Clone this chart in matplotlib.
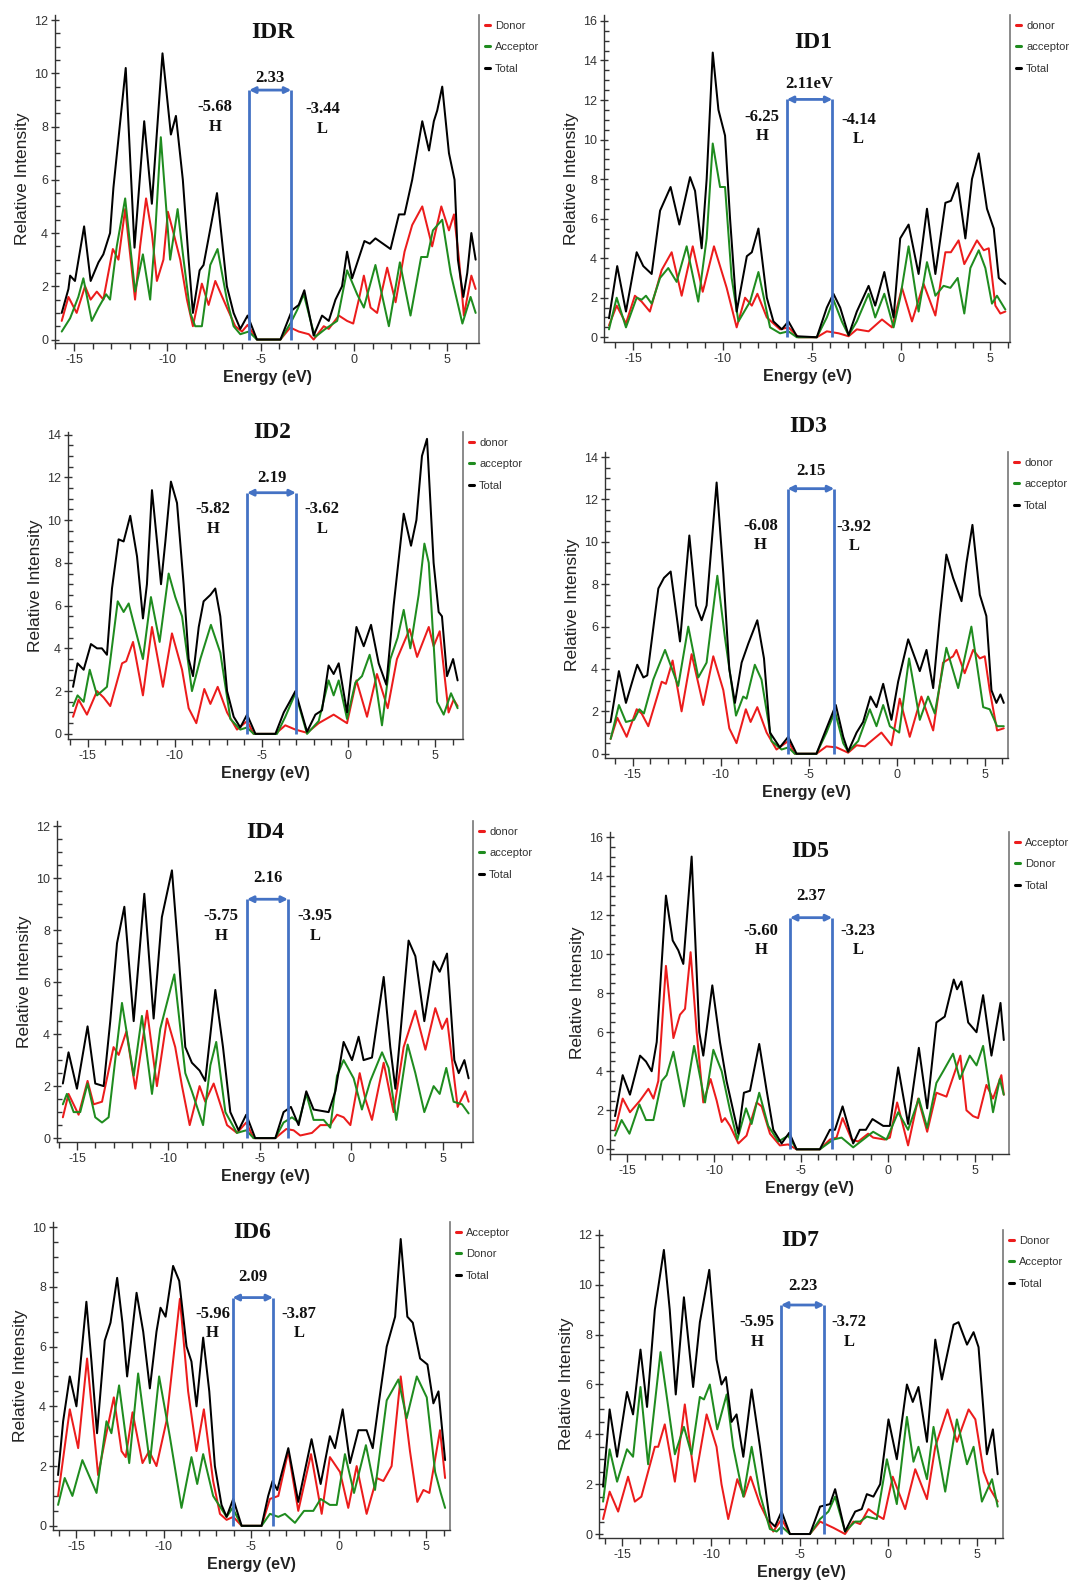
import matplotlib
matplotlib.use('Agg')
import matplotlib.pyplot as plt
from matplotlib.ticker import MultipleLocator

plt.rcParams['font.family'] = ['Liberation Sans', 'DejaVu Sans']
plt.rcParams['axes.unicode_minus'] = False

RED = '#ec1c1c'
GREEN = '#1f8c1f'
BLACK = '#000000'
BLUE = '#4472c4'

# ---------------- data (energy eV, relative intensity) ----------------
IDR_total = [(-15.66,1.0),(-15.30,1.9),(-15.21,2.4),(-14.95,2.2),(-14.46,4.25),(-14.11,2.2),(-13.69,2.9),(-13.43,3.2),(-13.25,3.6),(-13.07,4.0),(-12.89,5.7),(-12.23,10.2),(-11.76,3.45),(-11.24,8.2),(-10.83,5.1),(-10.26,10.75),(-9.81,7.7),(-9.54,8.4),(-9.17,6.0),(-8.86,3.0),(-8.63,1.0),(-8.27,2.6),(-8.06,2.8),(-7.34,5.5),(-6.81,2.0),(-6.45,1.0),(-6.09,0.4),(-5.70,0.9),(-5.20,0.0),(-3.94,0.0),(-3.32,1.1),(-2.96,1.3),(-2.66,1.85),(-2.16,0.15),(-1.71,0.9),(-1.35,0.7),(-0.99,1.5),(-0.64,2.0),(-0.37,3.3),(-0.10,2.3),(0.56,3.7),(0.85,3.6),(1.15,3.8),(1.96,3.4),(2.41,4.7),(2.71,4.7),(3.12,6.0),(3.66,8.2),(4.02,7.1),(4.28,8.2),(4.46,8.6),(4.73,9.5),(5.09,7.0),(5.39,6.0),(5.57,3.0),(5.86,1.6),(6.07,2.5),(6.29,4.0),(6.52,3.0)]
IDR_donor = [(-15.66,0.7),(-15.30,1.6),(-14.86,1.0),(-14.41,2.0),(-14.11,1.5),(-13.78,1.8),(-13.43,1.5),(-12.92,3.4),(-12.62,3.0),(-12.26,4.9),(-11.73,1.5),(-11.46,3.5),(-11.14,5.3),(-10.83,4.0),(-10.56,2.2),(-10.21,3.0),(-9.97,4.8),(-9.67,4.0),(-9.31,3.0),(-8.95,1.5),(-8.63,0.5),(-8.15,2.1),(-7.79,1.3),(-7.43,2.2),(-6.81,1.2),(-6.36,0.5),(-6.00,0.3),(-5.70,0.55),(-5.29,0.1),(-5.20,0.0),(-3.94,0.0),(-3.59,0.3),(-3.41,0.45),(-2.96,0.3),(-2.42,0.2),(-2.16,0.0),(-1.62,0.5),(-1.35,0.4),(-0.81,0.9),(-0.37,0.7),(-0.04,0.6),(0.26,1.5),(0.53,2.4),(0.89,1.2),(1.24,1.0),(1.78,2.7),(2.23,1.4),(2.71,3.3),(3.12,4.3),(3.66,5.0),(4.19,3.5),(4.68,5.0),(5.09,4.1),(5.36,4.7),(5.63,3.0),(5.89,0.9),(6.29,2.4),(6.52,1.9)]
IDR_acceptor = [(-15.66,0.3),(-15.21,0.8),(-14.77,1.6),(-14.50,2.3),(-14.05,0.7),(-13.69,1.2),(-13.28,1.7),(-13.07,1.5),(-12.71,3.5),(-12.26,5.3),(-11.73,1.8),(-11.31,3.2),(-10.92,1.5),(-10.65,4.0),(-10.35,7.6),(-9.85,3.0),(-9.45,4.9),(-9.13,3.0),(-8.77,1.0),(-8.51,0.5),(-8.15,0.5),(-7.70,2.8),(-7.31,3.4),(-6.81,1.5),(-6.45,0.5),(-6.09,0.2),(-5.64,0.3),(-5.20,0.0),(-3.94,0.0),(-3.41,0.6),(-3.05,1.1),(-2.69,1.7),(-2.25,0.5),(-2.07,0.1),(-1.53,0.4),(-0.90,0.7),(-0.37,2.6),(0.17,1.7),(0.53,1.2),(1.15,2.8),(1.87,0.5),(2.46,2.9),(3.03,0.9),(3.60,3.1),(3.93,3.1),(4.23,4.1),(4.73,4.5),(5.18,2.5),(5.81,0.6),(6.25,1.6),(6.52,1.0)]

ID1_total = [(-16.36,0.96),(-15.90,3.6),(-15.41,1.3),(-14.81,4.3),(-14.44,3.6),(-13.97,3.2),(-13.50,6.4),(-12.91,7.6),(-12.42,5.7),(-11.82,8.1),(-11.54,7.4),(-11.17,4.5),(-10.89,8.0),(-10.55,14.4),(-10.23,11.5),(-9.86,10.2),(-9.58,6.0),(-9.21,1.3),(-8.64,4.1),(-8.36,4.3),(-7.99,5.5),(-7.52,2.0),(-7.15,0.8),(-6.68,0.4),(-6.31,0.8),(-5.84,0.05),(-4.72,0.0),(-4.16,1.5),(-3.79,2.2),(-3.41,1.5),(-2.94,0.1),(-2.48,1.3),(-1.82,2.6),(-1.45,1.6),(-0.94,3.3),(-0.42,1.0),(-0.05,5.0),(0.42,5.7),(0.98,3.2),(1.45,6.5),(1.92,3.2),(2.48,6.8),(2.79,6.9),(3.17,7.8),(3.60,5.0),(3.97,8.0),(4.35,9.3),(4.81,6.5),(5.19,5.5),(5.47,3.0),(5.84,2.7)]
ID1_donor = [(-16.36,0.6),(-15.93,1.6),(-15.41,0.7),(-14.91,2.1),(-14.53,1.8),(-14.07,1.3),(-13.41,3.4),(-12.85,4.3),(-12.29,2.1),(-11.67,4.6),(-11.11,2.3),(-10.48,4.6),(-9.77,2.5),(-9.21,0.5),(-8.74,2.0),(-8.36,1.6),(-8.05,2.2),(-7.52,1.0),(-6.78,0.4),(-6.31,0.5),(-5.75,0.0),(-4.72,0.0),(-4.16,0.3),(-3.50,0.2),(-2.94,0.05),(-2.48,0.4),(-1.82,0.3),(-1.07,0.9),(-0.51,0.5),(0.05,2.5),(0.61,0.8),(1.26,2.7),(1.92,1.1),(2.48,4.3),(2.79,4.3),(3.22,4.9),(3.54,3.7),(4.25,4.9),(4.63,4.4),(4.91,4.5),(5.28,1.6),(5.56,1.2),(5.84,1.3)]
ID1_acceptor = [(-16.36,0.4),(-15.93,2.0),(-15.41,0.5),(-14.81,2.0),(-14.53,1.9),(-14.29,2.1),(-13.97,1.7),(-13.50,3.0),(-13.04,3.5),(-12.57,2.8),(-12.01,4.6),(-11.36,1.8),(-10.89,5.0),(-10.55,9.8),(-10.14,7.6),(-9.86,7.6),(-9.49,3.0),(-9.11,0.8),(-8.46,1.8),(-7.99,3.3),(-7.34,0.5),(-6.78,0.2),(-6.31,0.3),(-5.84,0.0),(-4.72,0.0),(-4.16,1.0),(-3.79,1.9),(-3.32,0.8),(-2.94,0.1),(-2.48,0.8),(-1.82,2.2),(-1.45,1.0),(-0.94,2.2),(-0.42,0.5),(-0.05,2.0),(0.42,4.6),(0.98,1.3),(1.45,3.8),(1.92,2.1),(2.38,2.6),(2.76,2.5),(3.17,3.0),(3.54,1.2),(3.88,3.5),(4.35,4.4),(4.72,3.5),(5.09,1.7),(5.37,2.1),(5.84,1.4)]

ID2_total = [(-15.84,2.2),(-15.58,3.3),(-15.23,3.0),(-14.81,4.2),(-14.46,4.0),(-14.18,4.0),(-13.89,3.7),(-13.60,6.8),(-13.22,9.1),(-12.93,9.0),(-12.55,10.2),(-12.16,8.3),(-11.82,5.4),(-11.59,7.0),(-11.30,11.4),(-11.01,9.0),(-10.78,7.0),(-10.53,9.0),(-10.21,11.8),(-9.86,10.8),(-9.48,7.0),(-9.19,3.5),(-8.94,2.7),(-8.61,5.0),(-8.33,6.2),(-7.94,6.5),(-7.66,6.8),(-7.37,5.5),(-6.98,2.0),(-6.60,0.8),(-6.22,0.3),(-5.83,0.9),(-5.35,0.0),(-4.20,0.0),(-3.72,1.0),(-3.38,1.5),(-3.05,2.0),(-2.77,1.2),(-2.38,0.1),(-1.90,0.9),(-1.52,1.1),(-1.14,3.2),(-0.85,2.8),(-0.56,3.3),(-0.08,1.0),(0.46,5.0),(0.88,4.1),(1.30,5.1),(1.74,3.3),(2.18,2.3),(2.60,6.0),(3.18,10.3),(3.60,8.8),(3.91,10.0),(4.23,13.0),(4.52,13.8),(4.90,8.0),(5.19,5.7),(5.38,5.5),(5.67,2.7),(6.02,3.5),(6.28,2.5)]
ID2_donor = [(-15.84,0.8),(-15.52,1.6),(-15.04,0.9),(-14.46,2.0),(-14.08,1.7),(-13.70,1.3),(-13.02,3.3),(-12.78,3.4),(-12.39,4.3),(-11.82,1.8),(-11.30,5.0),(-10.67,2.2),(-10.15,4.7),(-9.57,3.0),(-9.19,1.2),(-8.75,0.5),(-8.29,2.1),(-7.94,1.4),(-7.52,2.2),(-6.98,1.0),(-6.41,0.2),(-5.83,0.6),(-5.45,0.0),(-4.20,0.0),(-3.63,0.4),(-3.05,0.2),(-2.38,0.05),(-1.71,0.5),(-0.85,0.9),(-0.08,0.5),(0.46,2.5),(1.07,0.8),(1.64,2.8),(2.26,1.2),(2.79,3.5),(3.52,4.9),(3.95,3.6),(4.62,5.0),(4.90,4.1),(5.25,4.8),(5.76,1.0),(6.05,1.6),(6.28,1.3)]
ID2_acceptor = [(-15.84,1.3),(-15.58,1.8),(-15.23,1.5),(-14.88,3.0),(-14.46,1.8),(-13.89,2.2),(-13.27,6.2),(-12.93,5.7),(-12.64,6.1),(-11.82,3.5),(-11.36,6.4),(-10.86,4.3),(-10.34,7.5),(-9.96,6.4),(-9.57,5.5),(-9.00,2.0),(-8.52,3.5),(-7.91,5.1),(-7.37,3.8),(-6.79,0.7),(-6.22,0.2),(-5.83,0.3),(-5.45,0.0),(-4.11,0.0),(-3.63,0.8),(-3.05,1.9),(-2.38,0.0),(-1.71,0.6),(-1.14,2.5),(-0.85,1.8),(-0.56,2.5),(-0.08,0.7),(0.40,2.4),(0.78,2.7),(1.22,3.7),(1.55,2.5),(1.93,0.4),(2.41,3.5),(2.83,4.5),(3.18,5.8),(3.56,4.0),(4.04,6.5),(4.37,8.9),(4.62,8.0),(5.10,1.5),(5.48,0.9),(5.90,1.9),(6.28,1.2)]

ID3_total = [(-16.25,1.5),(-15.78,3.9),(-15.38,2.4),(-14.74,4.2),(-14.39,3.6),(-14.17,3.7),(-13.54,7.8),(-13.22,8.3),(-12.84,8.6),(-12.31,5.3),(-11.78,10.3),(-11.40,7.0),(-11.08,6.3),(-10.80,7.0),(-10.23,12.8),(-9.85,8.5),(-9.51,4.0),(-9.19,2.4),(-8.81,4.3),(-8.43,5.2),(-7.92,6.3),(-7.54,4.5),(-7.20,1.0),(-6.64,0.3),(-6.16,0.8),(-5.69,0.0),(-4.56,0.0),(-3.99,1.2),(-3.46,2.3),(-3.04,0.8),(-2.76,0.1),(-2.28,1.0),(-1.91,1.5),(-1.49,2.7),(-1.15,2.2),(-0.77,3.3),(-0.30,1.6),(0.08,3.4),(0.65,5.4),(1.31,3.9),(1.69,4.9),(2.07,3.1),(2.45,6.5),(2.82,9.4),(3.20,8.3),(3.68,7.2),(3.96,9.0),(4.30,10.8),(4.72,7.5),(5.09,6.5),(5.38,3.0),(5.66,2.4),(5.89,2.8),(6.08,2.4)]
ID3_donor = [(-16.25,0.7),(-15.87,1.7),(-15.34,0.8),(-14.77,2.1),(-14.49,1.9),(-14.11,1.3),(-13.35,3.4),(-13.11,3.3),(-12.73,4.4),(-12.22,2.0),(-11.65,4.7),(-10.99,2.3),(-10.42,4.6),(-9.85,3.0),(-9.51,1.2),(-9.10,0.5),(-8.57,2.1),(-8.30,1.5),(-7.92,2.2),(-7.39,1.0),(-6.83,0.2),(-6.16,0.6),(-5.79,0.0),(-4.56,0.0),(-3.99,0.35),(-3.42,0.3),(-2.76,0.05),(-2.28,0.4),(-1.81,0.35),(-0.87,1.0),(-0.30,0.4),(0.17,2.6),(0.74,0.8),(1.40,2.7),(2.07,1.1),(2.63,4.3),(3.20,4.6),(3.39,4.9),(3.86,3.8),(4.34,4.9),(4.72,4.5),(5.00,4.6),(5.28,3.0),(5.70,1.1),(6.08,1.2)]
ID3_acceptor = [(-16.25,0.7),(-15.78,2.3),(-15.38,1.5),(-14.92,1.6),(-14.62,2.1),(-14.36,1.9),(-13.83,3.5),(-13.16,4.9),(-12.41,3.2),(-11.84,6.0),(-11.27,3.6),(-10.80,4.3),(-10.19,8.4),(-9.76,5.5),(-9.13,1.8),(-8.72,2.7),(-8.53,2.6),(-8.06,4.2),(-7.68,3.5),(-7.11,0.6),(-6.54,0.2),(-6.16,0.3),(-5.79,0.0),(-4.56,0.0),(-3.99,1.0),(-3.51,2.0),(-3.04,0.5),(-2.76,0.1),(-2.19,0.6),(-1.53,2.1),(-1.15,1.3),(-0.77,2.3),(-0.39,1.3),(0.14,1.0),(0.70,4.5),(1.31,1.6),(1.78,2.7),(2.16,1.9),(2.82,5.0),(3.49,3.1),(4.24,6.0),(4.91,2.2),(5.28,2.1),(5.70,1.3),(6.08,1.3)]

ID4_total = [(-15.77,2.1),(-15.46,3.3),(-15.00,1.9),(-14.42,4.3),(-14.00,2.1),(-13.54,2.0),(-13.18,4.5),(-12.81,7.5),(-12.41,8.9),(-11.90,4.5),(-11.32,9.4),(-10.81,4.6),(-10.36,8.5),(-9.81,10.3),(-9.44,7.0),(-9.08,3.5),(-8.72,2.9),(-8.30,2.6),(-7.99,2.2),(-7.44,5.7),(-7.02,3.5),(-6.62,1.0),(-6.17,0.3),(-5.75,0.9),(-5.26,0.0),(-4.16,0.0),(-3.71,1.0),(-3.31,1.2),(-2.89,0.5),(-2.47,1.8),(-2.07,1.1),(-1.25,1.0),(-0.88,1.8),(-0.43,3.7),(0.03,3.0),(0.39,3.9),(0.66,3.0),(1.12,3.1),(1.76,6.2),(2.12,3.5),(2.40,1.9),(2.67,4.0),(3.12,7.6),(3.49,7.0),(3.98,4.5),(4.49,6.8),(4.82,6.4),(5.22,7.1),(5.62,3.0),(5.86,2.5),(6.17,3.0),(6.40,2.3)]
ID4_donor = [(-15.77,0.8),(-15.46,1.7),(-14.91,0.9),(-14.42,2.2),(-14.09,1.3),(-13.63,1.4),(-13.00,3.5),(-12.72,3.2),(-12.30,4.1),(-11.81,1.9),(-11.17,4.9),(-10.63,2.0),(-10.08,4.6),(-9.63,3.5),(-9.26,2.0),(-8.84,0.5),(-8.30,2.0),(-7.99,1.4),(-7.53,2.1),(-6.80,0.5),(-6.26,0.2),(-5.75,0.6),(-5.35,0.0),(-4.16,0.0),(-3.56,0.35),(-3.16,0.3),(-2.80,0.1),(-2.16,0.2),(-1.70,0.5),(-1.16,0.5),(-0.79,0.9),(-0.43,0.8),(-0.06,0.5),(0.45,2.5),(0.76,1.5),(1.12,0.7),(1.76,2.9),(2.30,1.0),(2.85,3.5),(3.49,4.9),(4.04,3.4),(4.58,5.0),(4.95,4.2),(5.22,4.6),(5.80,1.2),(6.22,1.8),(6.40,1.4)]
ID4_acceptor = [(-15.77,1.3),(-15.55,1.7),(-15.18,1.0),(-14.82,1.0),(-14.42,2.1),(-14.00,0.8),(-13.63,0.6),(-13.27,0.8),(-12.91,3.0),(-12.54,5.2),(-11.90,2.4),(-11.45,4.7),(-10.90,1.7),(-10.45,4.2),(-9.68,6.3),(-9.08,2.5),(-8.72,1.8),(-8.11,0.5),(-7.71,2.8),(-7.39,3.7),(-6.89,1.0),(-6.26,0.2),(-5.75,0.3),(-5.35,0.0),(-4.16,0.0),(-3.71,0.6),(-3.25,0.8),(-2.89,0.6),(-2.47,1.7),(-2.07,0.7),(-1.52,0.7),(-1.16,0.4),(-0.79,2.4),(-0.43,3.0),(0.12,2.3),(0.57,1.1),(1.03,2.2),(1.67,3.3),(2.03,2.7),(2.45,0.7),(3.07,3.6),(3.49,2.5),(3.98,1.0),(4.49,2.0),(4.82,1.7),(5.18,2.7),(5.58,1.4),(6.04,1.3),(6.40,0.95)]

ID5_total = [(-15.71,1.7),(-15.27,3.8),(-14.85,2.8),(-14.27,4.8),(-13.93,4.5),(-13.60,4.0),(-13.31,5.5),(-12.78,13.0),(-12.39,10.7),(-12.07,10.2),(-11.78,9.5),(-11.30,15.0),(-10.86,6.0),(-10.63,4.8),(-10.11,8.4),(-9.67,5.5),(-9.29,3.5),(-8.61,0.8),(-8.29,2.9),(-7.94,3.0),(-7.41,5.4),(-6.98,3.0),(-6.60,1.0),(-6.12,0.3),(-5.68,0.85),(-5.26,0.0),(-3.92,0.0),(-3.34,1.0),(-3.05,1.0),(-2.61,2.2),(-2.00,0.3),(-1.62,1.0),(-1.27,1.0),(-0.89,1.55),(-0.27,1.2),(0.11,1.2),(0.59,4.2),(1.16,1.3),(1.78,5.2),(2.26,2.1),(2.79,6.5),(3.27,6.8),(3.79,8.7),(3.98,8.2),(4.23,8.6),(4.62,6.5),(5.10,6.0),(5.48,7.9),(5.96,4.8),(6.48,7.5),(6.67,5.6)]
ID5_acceptor = [(-15.71,1.0),(-15.27,2.6),(-14.85,1.9),(-14.27,2.5),(-13.79,3.1),(-13.50,2.6),(-13.22,3.5),(-12.78,9.4),(-12.35,5.7),(-11.97,6.9),(-11.68,7.2),(-11.36,10.1),(-11.01,6.0),(-10.63,2.4),(-10.21,3.6),(-9.86,2.5),(-9.57,1.4),(-9.38,1.6),(-9.09,1.2),(-8.61,0.3),(-8.14,0.7),(-7.56,2.4),(-7.27,2.2),(-6.79,0.8),(-6.22,0.2),(-5.74,0.25),(-5.26,0.0),(-3.92,0.0),(-3.34,0.5),(-2.96,0.6),(-2.61,1.6),(-2.09,0.5),(-1.71,0.4),(-1.14,0.8),(-0.85,0.6),(-0.18,0.5),(0.11,0.6),(0.53,2.4),(1.16,0.2),(1.74,2.6),(2.26,0.9),(2.79,2.9),(3.37,2.7),(4.17,4.8),(4.52,2.0),(4.90,1.7),(5.19,1.6),(5.67,3.3),(6.05,2.6),(6.53,3.8),(6.67,2.8)]
ID5_donor = [(-15.71,0.7),(-15.33,1.5),(-14.88,0.8),(-14.31,2.3),(-13.93,1.5),(-13.50,1.5),(-13.02,3.5),(-12.74,3.8),(-12.35,5.0),(-11.74,2.2),(-11.16,5.3),(-10.53,2.4),(-10.05,5.1),(-9.57,4.0),(-9.09,2.0),(-8.67,0.5),(-8.17,2.1),(-7.85,1.3),(-7.41,2.9),(-6.89,1.2),(-6.31,0.4),(-5.74,0.7),(-5.26,0.0),(-3.92,0.0),(-3.15,0.5),(-2.67,0.6),(-2.00,0.1),(-1.42,0.5),(-0.85,0.9),(-0.08,0.5),(0.59,1.9),(1.16,1.0),(1.78,2.6),(2.26,1.1),(2.79,3.4),(3.18,4.0),(3.75,4.9),(4.14,3.6),(4.71,4.8),(5.10,4.3),(5.48,5.3),(6.05,1.9),(6.44,3.6),(6.67,2.8)]

ID6_total = [(-16.05,1.7),(-15.76,3.5),(-15.38,5.0),(-15.00,4.0),(-14.43,7.5),(-14.14,5.5),(-13.82,3.1),(-13.38,6.2),(-13.05,6.8),(-12.67,8.3),(-12.37,6.8),(-12.10,5.0),(-11.56,7.8),(-11.18,6.5),(-10.80,4.6),(-10.42,6.5),(-10.19,7.3),(-9.90,7.0),(-9.47,8.7),(-9.12,8.2),(-8.70,6.0),(-8.42,5.5),(-8.13,4.0),(-7.75,6.3),(-7.40,4.5),(-7.08,2.0),(-6.70,0.7),(-6.41,0.3),(-6.03,0.9),(-5.55,0.0),(-4.41,0.0),(-4.03,1.0),(-3.78,1.5),(-3.51,1.2),(-2.88,2.6),(-2.31,0.8),(-1.55,2.9),(-1.03,1.4),(-0.50,3.0),(-0.21,2.6),(0.23,3.9),(0.65,2.1),(1.13,3.2),(1.60,3.2),(1.95,2.6),(2.27,4.0),(2.75,6.0),(3.23,7.0),(3.55,9.6),(3.93,7.0),(4.24,6.8),(4.66,5.6),(5.08,5.4),(5.42,4.1),(5.71,4.5),(6.09,2.2)]
ID6_acceptor = [(-16.05,1.0),(-15.38,3.9),(-14.90,2.6),(-14.39,5.6),(-13.76,1.7),(-13.32,3.0),(-12.86,4.3),(-12.42,2.5),(-12.18,2.3),(-11.79,3.8),(-11.22,2.1),(-10.84,2.5),(-10.42,2.0),(-9.85,3.5),(-9.08,7.6),(-8.61,4.5),(-8.13,2.5),(-7.71,3.9),(-7.18,1.5),(-6.79,0.4),(-6.41,0.2),(-6.03,0.3),(-5.55,0.0),(-4.41,0.0),(-3.93,0.9),(-3.45,1.0),(-2.88,2.5),(-2.31,0.5),(-1.58,2.4),(-0.97,0.4),(-0.50,2.3),(0.08,1.8),(0.55,0.6),(1.03,2.0),(1.60,0.4),(2.18,1.6),(2.56,1.5),(3.03,2.0),(3.55,5.0),(4.08,2.5),(4.50,0.8),(4.85,1.2),(5.19,1.1),(5.80,3.2),(6.09,1.6)]
ID6_donor = [(-16.05,0.7),(-15.67,1.6),(-15.23,1.0),(-14.66,2.2),(-13.85,1.1),(-13.28,3.5),(-13.00,3.1),(-12.56,4.7),(-11.98,2.1),(-11.47,5.1),(-10.80,2.1),(-10.27,5.0),(-9.66,3.0),(-8.99,0.6),(-8.42,2.3),(-8.09,1.4),(-7.75,2.4),(-7.18,1.0),(-6.41,0.3),(-6.07,0.6),(-5.55,0.0),(-4.41,0.0),(-3.93,0.4),(-3.45,0.3),(-3.07,0.4),(-2.50,0.1),(-1.98,0.5),(-1.45,0.5),(-1.03,0.9),(-0.50,0.7),(-0.11,0.7),(0.36,2.4),(0.88,1.1),(1.56,2.7),(2.08,1.2),(2.75,4.2),(3.42,4.9),(3.89,3.6),(4.47,5.0),(5.04,4.3),(5.52,1.8),(5.84,1.1),(6.09,0.6)]

ID7_total = [(-16.09,1.9),(-15.72,5.0),(-15.30,3.1),(-14.74,5.7),(-14.40,4.8),(-13.98,7.4),(-13.61,5.1),(-13.17,9.0),(-12.66,11.4),(-12.33,9.0),(-11.99,5.6),(-11.53,9.5),(-11.01,5.9),(-10.63,8.5),(-10.10,10.6),(-9.69,7.0),(-9.41,6.0),(-9.16,6.3),(-8.84,4.5),(-8.56,4.8),(-8.18,3.1),(-7.71,5.8),(-7.24,3.5),(-6.68,0.5),(-6.39,0.3),(-6.02,0.9),(-5.55,0.0),(-4.42,0.0),(-3.85,1.1),(-3.29,1.2),(-3.00,1.8),(-2.44,0.1),(-1.87,0.9),(-1.50,1.0),(-1.21,1.6),(-0.84,1.5),(-0.46,2.0),(0.01,4.6),(0.48,3.0),(1.05,6.0),(1.38,5.3),(1.70,5.9),(2.18,3.7),(2.65,7.8),(3.02,6.2),(3.68,8.4),(3.96,8.5),(4.44,7.6),(4.81,8.1),(5.09,7.5),(5.56,3.2),(5.90,4.2),(6.17,2.4)]
ID7_donor = [(-16.09,0.6),(-15.72,1.7),(-15.24,0.9),(-14.68,2.3),(-14.30,1.3),(-13.93,1.5),(-13.17,3.5),(-12.98,3.5),(-12.61,4.4),(-12.04,2.1),(-11.48,5.2),(-10.91,2.1),(-10.25,4.8),(-9.69,3.5),(-9.41,2.0),(-9.03,0.6),(-8.52,2.2),(-8.14,1.5),(-7.77,2.3),(-7.24,1.2),(-6.49,0.1),(-6.02,0.6),(-5.55,0.0),(-4.42,0.0),(-3.85,0.5),(-3.10,0.25),(-2.44,0.0),(-1.97,0.5),(-1.59,0.4),(-1.12,1.0),(-0.74,0.8),(-0.27,0.6),(0.25,2.3),(0.95,1.0),(1.52,2.6),(2.18,1.4),(2.65,3.5),(3.34,5.0),(3.87,3.7),(4.53,5.0),(4.91,4.6),(5.38,2.5),(5.75,1.8),(6.17,1.3)]
ID7_acceptor = [(-16.09,1.3),(-15.72,3.4),(-15.30,2.1),(-14.74,3.4),(-14.40,3.1),(-13.98,5.9),(-13.55,2.8),(-12.85,7.3),(-12.04,3.2),(-11.53,4.3),(-11.10,3.2),(-10.63,5.5),(-10.40,5.4),(-10.07,6.0),(-9.65,4.2),(-9.12,5.6),(-8.75,3.5),(-8.18,1.5),(-7.71,3.5),(-7.24,1.6),(-6.68,0.2),(-6.30,0.1),(-6.02,0.3),(-5.55,0.0),(-4.42,0.0),(-3.85,0.6),(-3.38,0.9),(-3.00,1.5),(-2.44,0.1),(-1.87,0.5),(-1.59,0.5),(-1.21,0.7),(-0.65,0.6),(-0.08,3.0),(0.48,1.2),(1.05,4.7),(1.42,2.9),(1.70,3.5),(2.18,2.2),(2.55,4.3),(3.21,1.7),(3.87,4.6),(4.44,2.8),(4.81,3.5),(5.28,1.3),(5.85,2.2),(6.17,1.1)]

PANEL_NAMES = ['IDR', 'ID1', 'ID2', 'ID3', 'ID4', 'ID5', 'ID6', 'ID7']
HOMO_LABELS = ['-5.68', '-6.25', '-5.82', '-6.08', '-5.75', '-5.60', '-5.96', '-5.95']
LUMO_LABELS = ['-3.44', '-4.14', '-3.62', '-3.92', '-3.95', '-3.23', '-3.87', '-3.72']
GAP_LABELS = ['2.33', '2.11eV', '2.19', '2.15', '2.16', '2.37', '2.09', '2.23']
LEGEND_LABELS = [
    ['Donor', 'Acceptor', 'Total'],
    ['donor', 'acceptor', 'Total'],
    ['donor', 'acceptor', 'Total'],
    ['donor', 'acceptor', 'Total'],
    ['donor', 'acceptor', 'Total'],
    ['Acceptor', 'Donor', 'Total'],
    ['Acceptor', 'Donor', 'Total'],
    ['Donor', 'Acceptor', 'Total'],
]
SERIES = [
    (IDR_donor, IDR_acceptor, IDR_total),
    (ID1_donor, ID1_acceptor, ID1_total),
    (ID2_donor, ID2_acceptor, ID2_total),
    (ID3_donor, ID3_acceptor, ID3_total),
    (ID4_donor, ID4_acceptor, ID4_total),
    (ID5_acceptor, ID5_donor, ID5_total),
    (ID6_acceptor, ID6_donor, ID6_total),
    (ID7_donor, ID7_acceptor, ID7_total),
]

# ---------------- layout (pixels / axis limits) ----------------
W, H = 1070, 1585
AX_PX = [(55, 479, 343, 15), (604, 1010, 342, 15),
         (68, 463, 739, 432), (605, 1008, 758, 452),
         (57, 473, 1142, 821), (610, 1009, 1154, 832),
         (53, 450, 1530, 1222), (599, 1003, 1538, 1230)]
XLIMS = [(-16.02, 6.70), (-16.64, 6.10), (-16.13, 6.59), (-16.57, 6.32),
         (-16.09, 6.64), (-16.00, 6.97), (-16.34, 6.37), (-16.32, 6.47)]
YLIMS = [(-0.13, 12.19), (-0.24, 16.30), (-0.24, 14.12), (-0.20, 14.24),
         (-0.15, 12.20), (-0.24, 16.26), (-0.14, 10.17), (-0.16, 12.20)]
TITLE_PX = [(273, 33), (813, 43), (272, 433), (808, 427),
            (265, 832), (810, 851), (252, 1233), (800, 1241)]
BOX = [(-5.62, -3.36, 9.37), (-6.40, -3.85, 12.03), (-5.83, -3.02, 11.28), (-6.20, -3.55, 12.51),
       (-5.71, -3.47, 9.19), (-5.64, -3.21, 11.87), (-6.07, -3.75, 7.64), (-6.06, -3.61, 9.19)]
H_OFF = [(-34, 27), (-25, 27), (-34, 26), (-27, 47), (-26, 27), (-29, 23), (-20, 26), (-24, 27)]
L_OFF = [(31, 29), (26, 30), (26, 26), (20, 48), (27, 27), (26, 23), (26, 26), (25, 27)]
GAP_OFF = [12, 15, 15, 18, 21, 22, 21, 19]

PX2PT = 72.0 / 100.0
SERIF = ['Liberation Serif', 'DejaVu Serif']

fig = plt.figure(figsize=(W / 100, H / 100), dpi=100)
fig.patch.set_facecolor('white')

for i, name in enumerate(PANEL_NAMES):
    l, r, b, t = AX_PX[i]
    ax = fig.add_axes([l / W, 1 - b / H, (r - l) / W, (b - t) / H])
    colors = [RED, GREEN, BLACK]
    for series, lab, col in zip(SERIES[i], LEGEND_LABELS[i], colors):
        xs = [p[0] for p in series]
        ys = [p[1] for p in series]
        ax.plot(xs, ys, color=col, lw=1.45, label=lab,
                solid_joinstyle='round', solid_capstyle='round')
    ax.set_xlim(*XLIMS[i])
    ax.set_ylim(*YLIMS[i])

    ax.xaxis.set_major_locator(MultipleLocator(5))
    ax.xaxis.set_minor_locator(MultipleLocator(1))
    ax.yaxis.set_major_locator(MultipleLocator(2))
    ax.yaxis.set_minor_locator(MultipleLocator(0.5))
    ax.tick_params(axis='x', which='major', direction='out', length=6, width=1.0,
                   color='#333333', labelsize=9, labelcolor='#333333', pad=2)
    ax.tick_params(axis='x', which='minor', direction='out', length=4, width=1.0, color='#333333')
    ax.tick_params(axis='y', which='major', direction='inout', length=6, width=1.0,
                   color='#333333', labelsize=9, labelcolor='#333333', pad=2)
    ax.tick_params(axis='y', which='minor', direction='in', length=3.5, width=1.0, color='#333333')

    for s in ('left', 'bottom'):
        ax.spines[s].set_color('#333333')
        ax.spines[s].set_linewidth(1.0)
    ax.spines['top'].set_visible(False)
    ax.spines['right'].set_color('#777777')
    ax.spines['right'].set_linewidth(1.2)

    ax.set_xlabel('Energy (eV)', fontsize=11.5, fontweight='bold', color='#222222', labelpad=3)
    ax.set_ylabel('Relative Intensity', fontsize=12.5, color='#222222', labelpad=3)

    leg = ax.legend(loc='upper left', bbox_to_anchor=(1.0, 1.0), frameon=False,
                    fontsize=8, handlelength=0.45, handletextpad=0.5,
                    labelspacing=1.05, borderaxespad=0.2, borderpad=0.3)
    for h in leg.legend_handles:
        h.set_linewidth(2.2)
    for txt in leg.get_texts():
        txt.set_color('#333333')

    xl, xr, top = BOX[i]
    ax.vlines([xl, xr], 0, top, color=BLUE, lw=2.0, zorder=5)
    ax.annotate('', xy=(xl, top), xytext=(xr, top),
                arrowprops=dict(arrowstyle='<|-|>', color=BLUE, lw=2.0,
                                shrinkA=0, shrinkB=0, mutation_scale=9), zorder=6)
    ax.annotate(GAP_LABELS[i], xy=((xl + xr) / 2, top),
                xytext=(0, GAP_OFF[i] * PX2PT), textcoords='offset points',
                ha='center', va='center', fontsize=12, fontweight='bold',
                family=SERIF, color='#111111')
    hx, hy = H_OFF[i]
    ax.annotate(HOMO_LABELS[i] + '\nH', xy=(xl, top),
                xytext=(hx * PX2PT, -hy * PX2PT), textcoords='offset points',
                ha='center', va='center', multialignment='center', fontsize=12,
                fontweight='bold', family=SERIF, color='#111111', linespacing=1.3)
    lx, ly = L_OFF[i]
    ax.annotate(LUMO_LABELS[i] + '\nL', xy=(xr, top),
                xytext=(lx * PX2PT, -ly * PX2PT), textcoords='offset points',
                ha='center', va='center', multialignment='center', fontsize=12,
                fontweight='bold', family=SERIF, color='#111111', linespacing=1.3)

    tx, ty = TITLE_PX[i]
    fig.text(tx / W, 1 - ty / H, name, ha='center', va='center', fontsize=17,
             fontweight='bold', family=SERIF, color='#111111')

fig.savefig('out.png', dpi=100, facecolor='white')
